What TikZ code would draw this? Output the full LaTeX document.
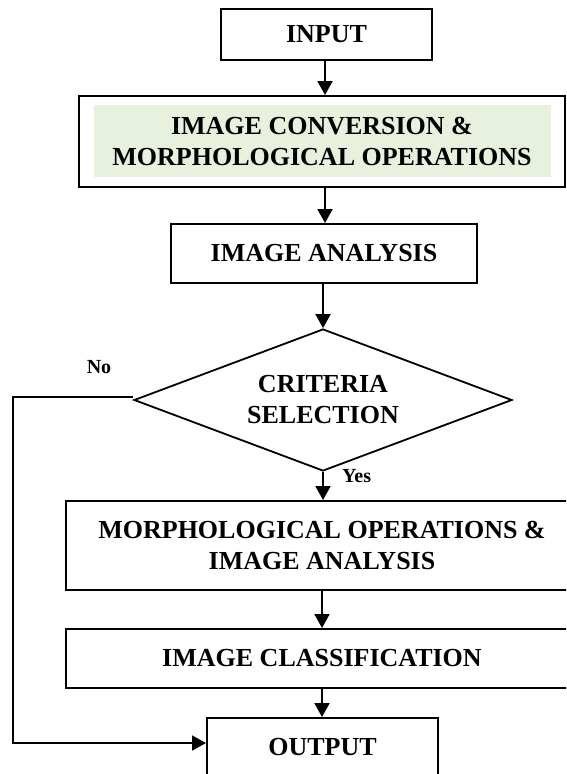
\documentclass[tikz,border=0pt]{standalone}
\usepackage{fontspec}
\setmainfont{Liberation Serif}
\usepackage{tikz}
\usetikzlibrary{shapes.geometric,arrows.meta}
\pgfdeclarelayer{bg}
\pgfsetlayers{bg,main}
\definecolor{shadegreen}{RGB}{232,240,222}

\begin{document}
\begin{tikzpicture}[x=1pt, y=-1pt,
        box/.style={draw, line width=2pt, align=center, inner sep=0pt,
                font=\bfseries\fontsize{26}{31}\selectfont},
        decision/.style={box, diamond, aspect=2.66, line width=1.8pt},
        arr/.style={line width=1.9pt, -{Triangle[length=14pt, width=15pt]}},
        lbl/.style={font=\bfseries\fontsize{20}{24}\selectfont, inner sep=0pt}]
        \useasboundingbox (0,0) rectangle (566,774);
        \clip (0,0) rectangle (566,774);
        \node (input) [box, minimum width=211pt, minimum height=51pt] at (326.5, 34.5) {INPUT};
        \node (conv) [box, minimum width=486pt, minimum height=91pt] at (322, 141.5) {IMAGE CONVERSION \&\\MORPHOLOGICAL OPERATIONS};
        \node (ana) [box, minimum width=306pt, minimum height=59pt] at (324, 253.5) {IMAGE ANALYSIS};
        \node (crit) [decision, minimum width=378pt, minimum height=142pt] at (323, 400) {CRITERIA\\SELECTION};
        \node (morph) [box, minimum width=512pt, minimum height=89pt] at (322, 545.5) {MORPHOLOGICAL OPERATIONS \&\\IMAGE ANALYSIS};
        \node (cls) [box, minimum width=512pt, minimum height=59pt] at (322, 658.5) {IMAGE CLASSIFICATION};
        \node (out) [box, minimum width=231pt, minimum height=58pt] at (322.5, 747) {OUTPUT};
        \node (no) [lbl] at (99, 367) {No};
        \node (yes) [lbl, anchor=west] at (342, 476) {Yes};
        \coordinate (nocorner) at (13, 500);
        \begin{pgfonlayer}{bg}
                \fill[shadegreen] ([shift={(16,10)}]conv.north west) rectangle ([shift={(-15,-11)}]conv.south east);
        \end{pgfonlayer}
        \draw[arr] ([xshift=-1.5pt]input.south) -- ([xshift=-1.5pt]input.south |- conv.north);
        \draw[arr] ([xshift=3pt]conv.south) -- ([xshift=3pt]conv.south |- ana.north);
        \draw[arr] ([xshift=-1pt]ana.south) -- ([xshift=-1pt]ana.south |- crit.north);
        \draw[arr] (crit.south) -- (crit.south |- morph.north);
        \draw[arr] (morph) -- (cls);
        \draw[arr] (cls) -- (cls |- out.north);
        \draw[arr] ([yshift=3pt]crit.west) -| (nocorner) |- ([yshift=4pt]out.west);
\end{tikzpicture}
\end{document}
